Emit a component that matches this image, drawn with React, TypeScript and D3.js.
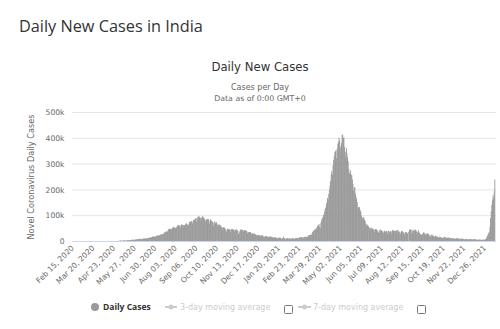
import React from "react";
import * as d3 from "d3";

// Daily new cases in India, thousands, by month (start Feb 15, 2020)
const feb2020 = [0,0,0,0,0,0,0,0,0,0,0,0,0,0,0];
const mar2020 = [0,0,0,0,0,0,0,0,0,0,0,0,0,0,0,0,0,0.1,0,0.1,0.1,0.1,0.1,0.1,0.1,0.1,0.1,0.2,0.2,0.2,0.3];
const apr2020 = [0.4,0.5,0.6,0.5,0.6,0.5,0.6,0.6,0.8,0.9,0.9,0.9,1.0,1.5,1.0,1.0,1.0,1.2,1.6,1.3,1.5,1.3,1.7,1.8,1.8,1.8,1.6,1.9,1.9,1.8];
const may2020 = [2.4,2.4,2.6,3.9,3.9,2.9,3.6,3.3,3.3,4.4,4.2,3.6,3.5,3.7,3.9,4.9,5.0,5.2,4.9,5.6,5.6,6.6,6.6,6.8,6.6,6.4,6.6,7.2,7.2,8.0,8.8];
const jun2020 = [8.2,8.2,9.6,9.9,9.5,10.9,9.9,8.4,9.9,11.2,10.9,11.4,11.9,11.5,11.1,10.7,13.8,12.9,13.6,14.5,14.8,13.6,15.6,16.9,17.3,18.1,19.9,19.1,18.5,18.9];
const jul2020 = [19.4,19.2,22.7,22.8,24.2,22.3,22.5,24.9,26.5,27.8,27.1,28.6,28.2,28.5,32.7,35.5,35.0,37.4,38.9,40.4,37.1,45.7,48.9,48.0,50.1,48.6,46.5,48.5,52.1,55.1,56.7];
const aug2020 = [54.7,53.6,51.9,52.1,56.2,62.1,62.9,61.5,64.4,62.0,53.6,61.3,67.0,65.0,64.2,64.1,55.1,63.5,64.5,68.9,70.0,68.9,63.0,59.7,67.2,76.0,75.9,77.3,78.8,79.0,69.9];
const sep2020 = [78.4,83.9,83.3,86.4,90.6,90.8,75.8,89.7,95.7,96.6,97.6,94.4,92.1,81.9,90.1,97.9,96.4,93.3,92.6,86.9,75.1,83.3,86.5,86.1,85.4,88.6,82.8,69.7,80.4,86.8];
const oct2020 = [81.5,79.5,75.6,74.8,61.3,72.1,78.5,70.5,73.3,74.4,66.7,55.3,63.5,67.7,63.4,62.2,61.9,55.7,47.0,54.0,55.8,54.4,53.4,50.1,45.1,36.4,43.9,49.9,48.6,48.3,46.9];
const nov2020 = [46.0,38.3,46.3,50.2,47.6,46.3,45.7,45.2,38.1,44.3,47.9,44.9,44.7,41.1,30.5,29.2,38.6,45.6,45.9,46.2,45.2,44.1,37.9,44.4,44.5,43.2,41.8,41.3,39.0,31.1];
const dec2020 = [36.6,35.5,36.6,36.7,36.6,32.2,26.6,32.1,31.5,30.0,29.4,30.3,27.1,22.1,26.4,24.0,22.9,25.2,25.1,23.9,19.6,23.9,23.1,24.7,23.1,18.7,20.0,16.1,20.6,21.8,20.0];
const jan2021 = [19.1,19.1,18.2,16.5,18.1,20.3,18.1,18.2,18.6,16.3,12.6,15.9,16.9,15.6,15.2,15.1,13.8,10.1,13.8,15.2,14.5,14.3,14.2,13.2,9.1,12.7,11.7,18.9,13.1,13.0,11.4];
const feb2021 = [8.6,11.0,12.9,12.4,11.7,11.7,12.1,9.1,11.1,12.9,9.3,12.2,12.1,11.6,9.1,11.6,12.9,13.2,13.2,14.3,14.2,10.6,13.7,16.7,16.6,16.6,16.5,16.8];
const mar2021 = [12.3,15.5,17.4,17.0,18.3,18.6,18.7,15.4,17.9,22.9,23.3,24.9,25.3,26.3,24.5,28.9,35.9,39.7,40.9,43.8,46.9,47.0,47.3,53.5,59.1,62.3,62.7,68.0,56.1,53.5,72.3];
const apr2021 = [81.5,89.1,92.9,103.8,96.6,115.3,126.8,131.9,145.4,152.9,168.9,161.7,185.2,200.7,217.4,234.7,261.5,273.8,259.2,294.3,315.0,332.5,346.8,349.7,354.5,323.0,360.9,379.3,386.8,402.0];
const may2021 = [392.5,368.1,357.2,382.3,412.6,414.4,401.1,403.7,366.1,329.5,348.4,362.7,343.1,326.1,311.2,281.4,263.5,267.3,276.1,259.6,257.3,240.8,222.3,196.4,208.9,211.3,186.4,173.8,165.5,152.7,127.5];
const jun2021 = [132.8,134.2,132.4,120.5,114.5,100.6,86.5,92.6,94.1,91.7,84.3,80.8,70.4,62.2,67.2,62.5,60.8,58.4,53.3,42.6,50.8,54.1,51.7,48.7,50.0,46.1,37.5,45.9,48.8,46.6];
const jul2021 = [46.6,43.1,39.8,34.7,34.7,43.7,45.9,43.4,42.8,41.5,37.2,32.9,38.8,41.8,38.9,38.1,41.2,38.1,30.1,42.0,41.4,35.3,39.1,39.7,39.4,29.7,43.7,44.2,41.6,41.6,40.0];
const aug2021 = [41.8,30.5,42.6,42.9,44.6,38.6,39.1,35.5,28.2,35.5,41.2,40.1,38.7,36.1,32.9,25.2,35.2,36.4,36.6,34.5,30.9,1.0,37.6,46.2,44.6,47.8,45.1,30.9,42.9,30.9,42.0];
const sep2021 = [47.1,41.9,45.4,42.8,38.9,31.2,37.9,43.3,34.9,33.4,28.6,27.3,25.4,27.2,30.6,34.4,35.7,30.8,30.3,26.1,26.9,31.9,31.4,29.6,28.3,18.8,26.0,18.9,23.5,26.7];
const oct2021 = [24.4,22.8,20.8,18.3,18.8,22.4,21.3,19.7,18.1,18.2,14.3,15.8,18.9,16.9,16.0,15.9,13.6,13.1,14.6,18.5,16.3,15.8,16.3,14.3,12.4,14.3,16.2,14.3,14.3,12.8,12.8];
const nov2021 = [12.5,11.9,12.9,12.8,10.9,11.1,11.0,10.1,11.5,13.1,12.5,11.9,11.3,11.3,8.9,8.8,11.9,11.1,11.1,10.3,10.5,8.5,7.6,9.3,9.1,10.5,8.3,8.8,6.9,8.3];
const dec2021 = [8.9,9.8,9.2,8.6,8.3,6.8,8.4,9.4,9.4,8.5,7.9,7.8,7.4,5.8,6.9,7.9,7.4,7.1,7.1,6.6,5.3,6.3,7.5,6.7,7.2,6.9,6.5,9.2,13.2,16.8,22.8];
const jan2022 = [27.6,33.8,37.4,58.1,90.9,117.1,141.9,159.6,179.7,168.1,194.7,240.0];

const dailyCases = [
  ...feb2020, ...mar2020, ...apr2020, ...may2020, ...jun2020, ...jul2020,
  ...aug2020, ...sep2020, ...oct2020, ...nov2020, ...dec2020,
  ...jan2021, ...feb2021, ...mar2021, ...apr2021, ...may2021, ...jun2021,
  ...jul2021, ...aug2021, ...sep2021, ...oct2021, ...nov2021, ...dec2021,
  ...jan2022,
].map((v) => v * 1000);

const startDate = new Date(2020, 1, 15);
const fmt = d3.timeFormat("%b %d, %Y");
const categories = dailyCases.map((_, i) => fmt(d3.timeDay.offset(startDate, i)));

const xTickLabels = [
  "Feb 15, 2020", "Mar 20, 2020", "Apr 23, 2020", "May 27, 2020", "Jun 30, 2020",
  "Aug 03, 2020", "Sep 06, 2020", "Oct 10, 2020", "Nov 13, 2020", "Dec 17, 2020",
  "Jan 20, 2021", "Feb 23, 2021", "Mar 29, 2021", "May 02, 2021", "Jun 05, 2021",
  "Jul 09, 2021", "Aug 12, 2021", "Sep 15, 2021", "Oct 19, 2021", "Nov 22, 2021",
  "Dec 26, 2021",
];
const yTicks = [0, 100000, 200000, 300000, 400000, 500000];
const yTickLabels = ["0", "100k", "200k", "300k", "400k", "500k"];

const FONT = "'DejaVu Sans', sans-serif";

export default function App() {
  const x = d3.scaleBand<string>().domain(categories).range([72, 495]).padding(0);
  const y = d3.scaleLinear().domain([0, 500000]).range([241.5, 112.5]);
  const bw = x.bandwidth();

  return (
    <svg width={500} height={329} style={{ position: "absolute", left: 0, top: 0, background: "#fff" }}>
      <text x={19} y={32} fontFamily="'Open Sans', sans-serif" fontSize={16.3} fill="#333">
        Daily New Cases in India
      </text>
      <text x={260} y={71} textAnchor="middle" fontFamily={FONT} fontSize={11.7} fill="#333">
        Daily New Cases
      </text>
      <text x={260} y={90} textAnchor="middle" fontFamily={FONT} fontSize={8} fill="#666">
        Cases per Day
      </text>
      <text x={260} y={101} textAnchor="middle" fontFamily={FONT} fontSize={7.8} fill="#666">
        Data as of 0:00 GMT+0
      </text>

      {yTicks.map((t, i) => (
        <g key={t}>
          {i > 0 && <line x1={72} x2={496} y1={y(t)} y2={y(t)} stroke="#e6e6e6" strokeWidth={1} />}
          <text x={64.5} y={y(t)} dy="0.35em" textAnchor="end" fontFamily={FONT} fontSize={7.6} fill="#666">
            {yTickLabels[i]}
          </text>
        </g>
      ))}

      <text
        transform={`translate(34,177) rotate(-90)`}
        textAnchor="middle"
        fontFamily={FONT}
        fontSize={8.2}
        fill="#666"
      >
        Novel Coronavirus Daily Cases
      </text>

      <g>
        {dailyCases.map((v, i) => {
          const c = categories[i];
          const x0 = x(c) as number;
          return (
            <rect key={i} x={x0} y={y(v)} width={bw + 0.25} height={Math.max(0, y(0) - y(v))} fill="#959595" />
          );
        })}
      </g>
      <line x1={72} x2={496} y1={y(0)} y2={y(0)} stroke="#ccd6eb" strokeWidth={1} />

      {xTickLabels.map((lab) => {
        const cx = (x(lab) as number) + bw / 2;
        return (
          <text
            key={lab}
            transform={`translate(${cx + 2.2},248.5) rotate(-45)`}
            textAnchor="end"
            fontFamily={FONT}
            fontSize={7.6}
            fill="#666"
          >
            {lab}
          </text>
        );
      })}

      <g fontFamily={FONT} fontSize={8}>
        <circle cx={95} cy={307} r={4} fill="#999" />
        <text x={103} y={310} fontWeight="bold" fontSize={8.5} fontFamily="'Open Sans', sans-serif" fill="#333">Daily Cases</text>
        <line x1={165} x2={177} y1={307} y2={307} stroke="#ccc" strokeWidth={2} />
        <circle cx={171} cy={307} r={2.5} fill="#ccc" />
        <text x={180} y={310} fill="#ccc">3-day moving average</text>
        <rect x={284.5} y={305.5} width={8} height={8} rx={1} fill="#fff" stroke="#777" />
        <line x1={298} x2={311} y1={307} y2={307} stroke="#ccc" strokeWidth={2} />
        <circle cx={304.5} cy={307} r={2.5} fill="#ccc" />
        <text x={313} y={310} fill="#ccc">7-day moving average</text>
        <rect x={417.5} y={305.5} width={8} height={8} rx={1} fill="#fff" stroke="#777" />
      </g>
    </svg>
  );
}
